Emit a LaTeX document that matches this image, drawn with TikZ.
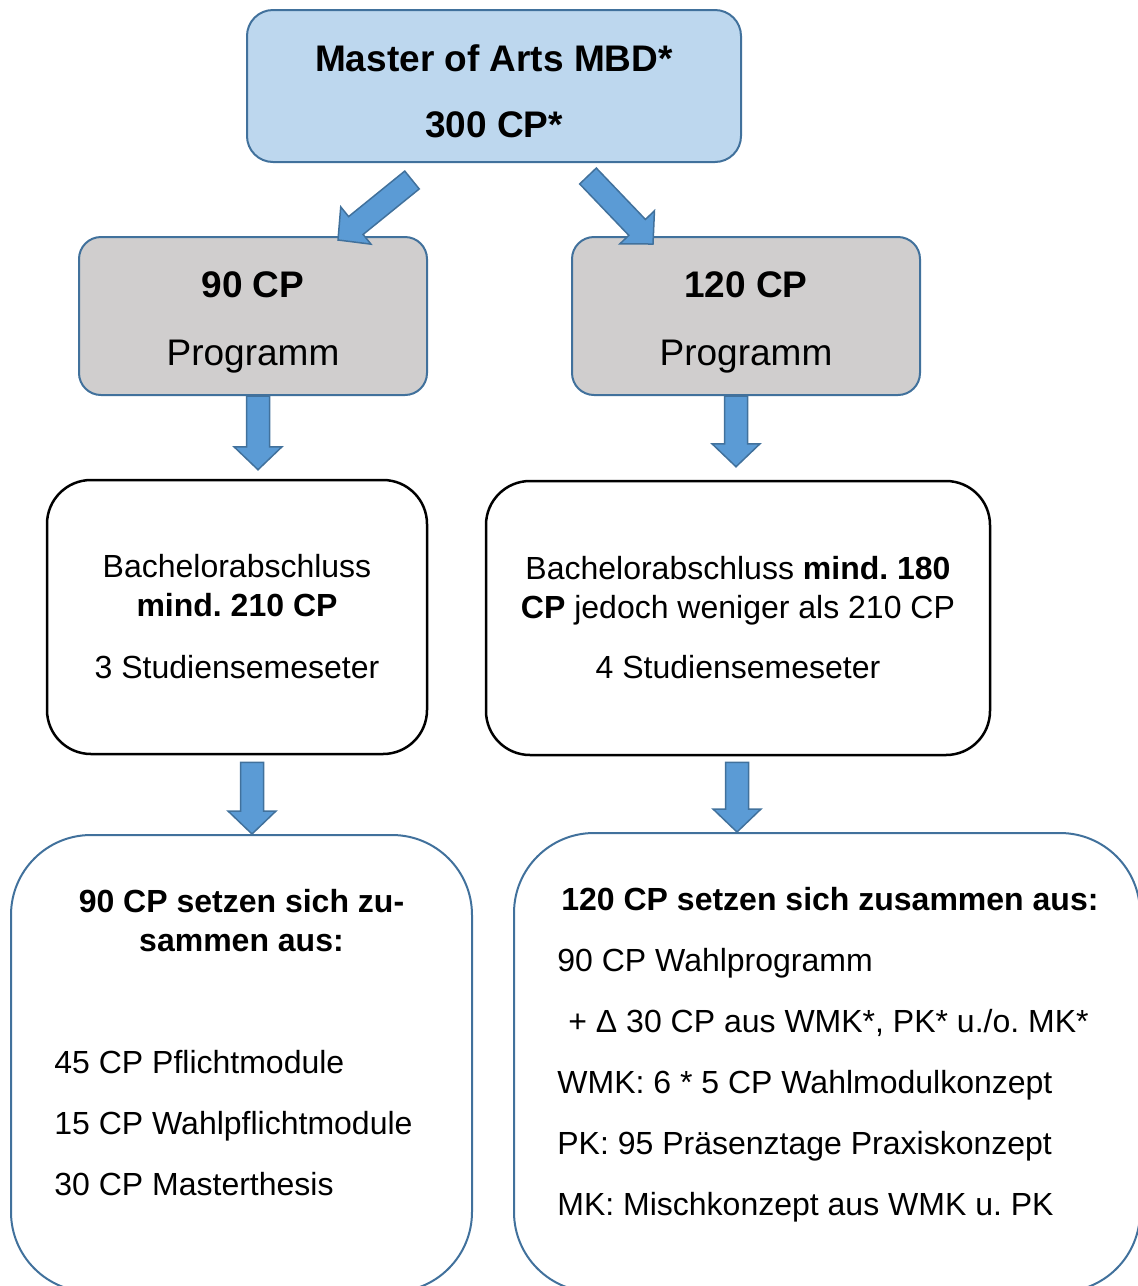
\documentclass[tikz,border=0pt]{standalone}
\usepackage{fontspec}
\setmainfont{Liberation Sans}
\frenchspacing
\usetikzlibrary{calc}

\definecolor{boxline}{HTML}{41719C}
\definecolor{arrowfill}{HTML}{5B9BD5}
\definecolor{masterfill}{HTML}{BDD7EE}
\definecolor{progfill}{HTML}{D0CECE}

\tikzset{
  masterbox/.style={draw=boxline, fill=masterfill, line width=1pt, rounded corners=13pt,
    minimum width=247pt, minimum height=76pt, align=center, inner sep=0pt,
    font=\fontsize{18.5}{33}\selectfont\bfseries},
  progbox/.style={draw=boxline, fill=progfill, line width=1pt, rounded corners=11pt,
    minimum width=174pt, minimum height=79pt, align=center, inner sep=0pt,
    font=\fontsize{18.5}{34}\selectfont},
  reqbox/.style={draw=black, line width=1.25pt, rounded corners=22pt, minimum height=137pt,
    align=center, inner sep=0pt, font=\fontsize{16}{19.5}\selectfont},
  sumbox/.style={draw=boxline, line width=1pt, rounded corners=40pt, inner sep=0pt},
  sumtext/.style={anchor=base west, inner sep=0pt, font=\fontsize{16}{19.5}\selectfont},
  sumhead/.style={anchor=base, inner sep=0pt, font=\fontsize{16}{19.5}\selectfont\bfseries},
  blockarrow/.style={draw=boxline, fill=arrowfill, line width=0.75pt, line join=miter},
}

% invisible strut that pushes the text of a box down
\newcommand{\toppad}[1]{\rule{0pt}{#1}}

% block arrow from #1 to #2, tip at #2
\newcommand{\blockarrow}[2]{%
  \coordinate (neck) at ($(#2)!11.5pt!(#1)$);
  \draw[blockarrow] ($(#1)!5.75pt!90:(#2)$) -- ($(neck)!5.75pt!-90:(#1)$)
    -- ($(neck)!12pt!-90:(#1)$) -- (#2) -- ($(neck)!12pt!90:(#1)$)
    -- ($(neck)!5.75pt!90:(#1)$) -- ($(#1)!5.75pt!-90:(#2)$) -- cycle;
}

\begin{document}
\begin{tikzpicture}[x=0.5pt, y=-0.5pt]
  \useasboundingbox (0,0) rectangle (1138,1286);
  \clip (0,0) rectangle (1138,1286);

  % top and programme boxes
  \node[masterbox] (master) at (494,86) {\toppad{18.3pt}Master of Arts MBD*\\300 CP*};
  \node[progbox] (p90) at (253,316) {\toppad{19.3pt}\textbf{90 CP}\\Programm};
  \node[progbox] (p120) at (746,316) {\toppad{19.3pt}\textbf{120 CP}\\Programm};

  % admission requirements
  \node[reqbox, minimum width=190pt] (r210) at (237,617)
    {Bachelorabschluss\\\textbf{mind. 210 CP}\\[11.5pt]3 Studiensemeseter};
  \node[reqbox, minimum width=252pt] (r180) at (738,618)
    {Bachelorabschluss \textbf{mind. 180}\\\textbf{CP} jedoch weniger als 210 CP\\[10.5pt]4 Studiensemeseter};

  % composition boxes
  \node[sumbox, minimum width=230.5pt, minimum height=228.5pt] (s90) at (241.5,1063.5) {};
  \node[sumbox, minimum width=313pt, minimum height=229.5pt] (s120) at (827,1062.5) {};

  \node[sumhead] (s90a) at (241.5,912) {90 CP setzen sich zu-};
  \node[sumhead] (s90b) at (241.5,951) {sammen aus:};
  \node[sumtext] (m1) at (54,1073) {45 CP Pflichtmodule};
  \node[sumtext] (m2) at (54,1134) {15 CP Wahlpflichtmodule};
  \node[sumtext] (m3) at (54,1195) {30 CP Masterthesis};

  \node[sumtext, font=\fontsize{16}{19.5}\selectfont\bfseries] (s120a) at (561,910)
    {120 CP setzen sich zusammen aus:};
  \node[sumtext] (w1) at (557,971) {90 CP Wahlprogramm};
  \node[sumtext] (w2) at (568,1032) {+ Δ 30 CP aus WMK*, PK* u./o. MK*};
  \node[sumtext] (w3) at (557,1093) {WMK: 6 * 5 CP Wahlmodulkonzept};
  \node[sumtext] (w4) at (557,1154) {PK: 95 Präsenztage Praxiskonzept};
  \node[sumtext] (w5) at (557,1215) {MK: Mischkonzept aus WMK u. PK};

  % arrows
  \coordinate (a1s) at (412,180);
  \coordinate (a1e) at (338,240);
  \coordinate (a2s) at (588,176);
  \coordinate (a2e) at (653,244);
  \coordinate (a3s) at ($(p90.south)+(5,0)$);
  \coordinate (a3e) at ($(a3s |- r210.north)+(0,-9)$);
  \coordinate (a4s) at ($(p120.south)+(-10,0)$);
  \coordinate (a4e) at ($(a4s |- r180.north)+(0,-13)$);
  \coordinate (a5s) at ($(r210.south)+(15,7)$);
  \coordinate (a5e) at (a5s |- s90.north);
  \coordinate (a6s) at ($(r180.south)+(-1,6)$);
  \coordinate (a6e) at (a6s |- s120.north);
  \blockarrow{a1s}{a1e}
  \blockarrow{a2s}{a2e}
  \blockarrow{a3s}{a3e}
  \blockarrow{a4s}{a4e}
  \blockarrow{a5s}{a5e}
  \blockarrow{a6s}{a6e}
\end{tikzpicture}
\end{document}
